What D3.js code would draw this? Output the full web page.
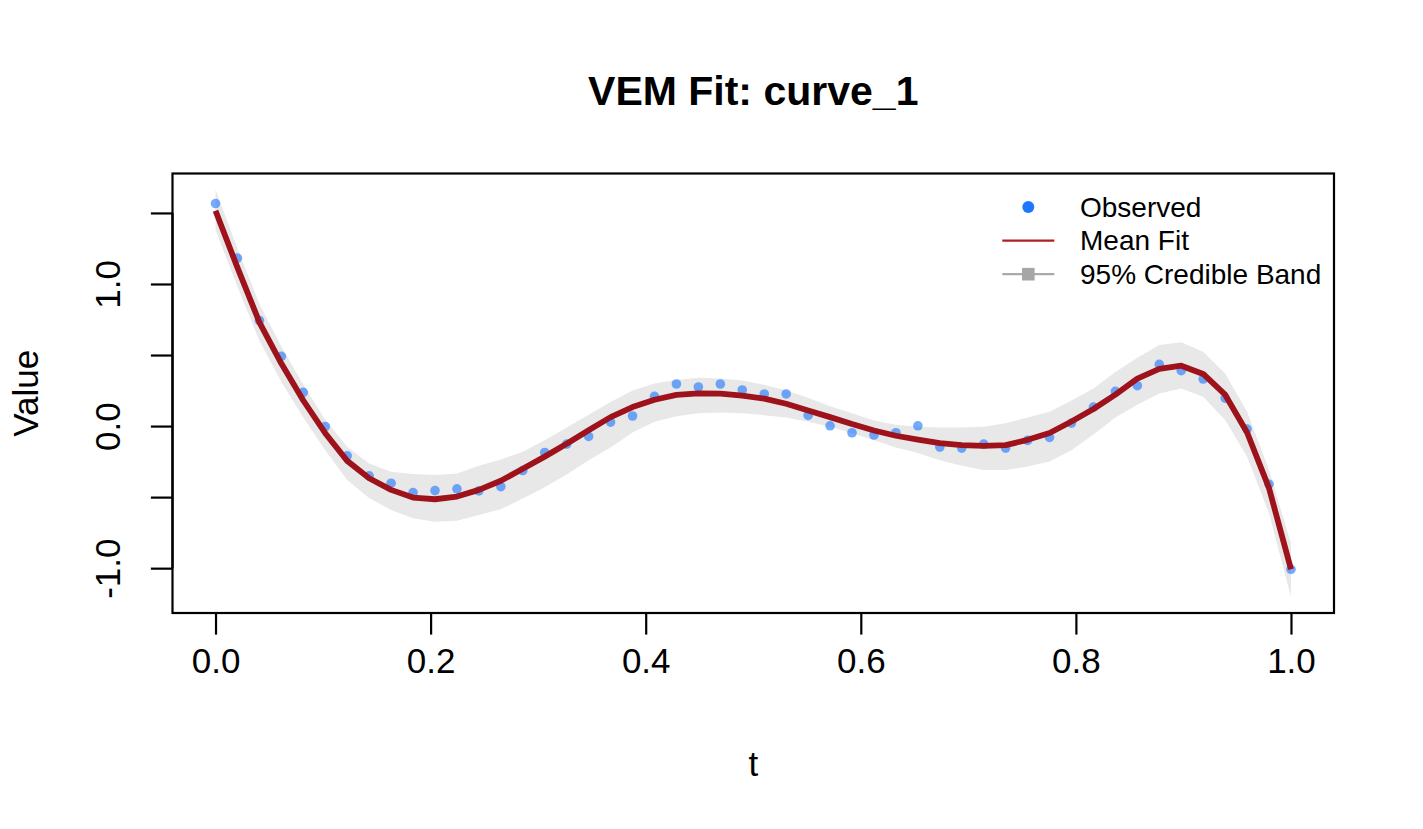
<!DOCTYPE html>
<html>
<head>
<meta charset="utf-8">
<script src="https://cdn.jsdelivr.net/npm/d3@7"></script>
<style>
  html, body { margin: 0; padding: 0; background: #fff; }
  svg { display: block; font-family: "Liberation Sans", Arial, Helvetica, sans-serif; }
</style>
</head>
<body>
<svg id="chart" width="1423" height="829"></svg>
<script>
// ---- data ----
const nPoints = 50;
const tValues = d3.range(nPoints).map(i => i / (nPoints - 1));
const observed = [1.566, 1.182, 0.743, 0.491, 0.237, -0.003, -0.209, -0.350, -0.402, -0.468,
  -0.454, -0.442, -0.456, -0.426, -0.313, -0.186, -0.127, -0.073, 0.028, 0.071,
  0.209, 0.296, 0.275, 0.296, 0.254, 0.226, 0.226, 0.075, 0.002, -0.047,
  -0.063, -0.047, 0.002, -0.148, -0.155, -0.127, -0.155, -0.101, -0.080, 0.021,
  0.134, 0.244, 0.284, 0.434, 0.390, 0.331, 0.197, -0.021, -0.409, -1.008];
const meanFit = [1.515, 1.115, 0.730, 0.440, 0.180, -0.050, -0.245, -0.367, -0.449, -0.503,
  -0.515, -0.496, -0.449, -0.385, -0.300, -0.215, -0.125, -0.030, 0.063, 0.134,
  0.185, 0.219, 0.230, 0.228, 0.214, 0.193, 0.157, 0.110, 0.063, 0.014,
  -0.031, -0.068, -0.095, -0.120, -0.134, -0.139, -0.134, -0.097, -0.049, 0.032,
  0.120, 0.221, 0.334, 0.402, 0.425, 0.367, 0.221, -0.045, -0.437, -1.008];
const bandUpper = [1.663, 1.250, 0.860, 0.560, 0.290, 0.045, -0.146, -0.263, -0.322, -0.338,
  -0.345, -0.333, -0.280, -0.235, -0.180, -0.100, -0.010, 0.080, 0.170, 0.250,
  0.300, 0.325, 0.340, 0.335, 0.320, 0.290, 0.250, 0.200, 0.140, 0.090,
  0.040, 0.010, -0.005, -0.010, -0.010, -0.005, 0.020, 0.060, 0.100, 0.180,
  0.265, 0.380, 0.480, 0.570, 0.590, 0.523, 0.370, 0.100, -0.310, -0.826];
const bandLower = [1.380, 0.980, 0.600, 0.310, 0.060, -0.170, -0.380, -0.507, -0.590, -0.648,
  -0.673, -0.666, -0.625, -0.585, -0.510, -0.430, -0.340, -0.240, -0.150, -0.045,
  0.030, 0.070, 0.090, 0.095, 0.090, 0.077, 0.060, 0.030, -0.005, -0.050,
  -0.100, -0.150, -0.190, -0.240, -0.280, -0.310, -0.310, -0.285, -0.250, -0.170,
  -0.060, 0.060, 0.150, 0.230, 0.265, 0.206, 0.042, -0.216, -0.614, -1.201];
const xTicks = [0, 0.2, 0.4, 0.6, 0.8, 1.0];
const yTicks = [-1.0, -0.5, 0.0, 0.5, 1.0, 1.5];
const yTickLabels = ["-1.0", "", "0.0", "", "1.0", ""];
const legendLabels = ["Observed", "Mean Fit", "95% Credible Band"];
const titleText = "VEM Fit: curve_1";

// ---- layout ----
const svg = d3.select("#chart");
const plot = { left: 172.5, top: 173.5, right: 1334, bottom: 613 };

const yMin = d3.min(bandLower), yMax = d3.max(bandUpper);
const yPad = (yMax - yMin) * 0.04;
const x = d3.scaleLinear().domain([-0.04, 1.04]).range([plot.left, plot.right]);
const y = d3.scaleLinear().domain([yMin - yPad, yMax + yPad]).range([plot.bottom, plot.top]);

const data = tValues.map((t, i) => ({ t, obs: observed[i], mean: meanFit[i], lo: bandLower[i], hi: bandUpper[i] }));

// band
svg.append("path")
  .datum(data)
  .attr("fill", "#e8e8e8")
  .attr("stroke", "none")
  .attr("d", d3.area().x(d => x(d.t)).y0(d => y(d.lo)).y1(d => y(d.hi)));

// points
svg.append("g").selectAll("circle")
  .data(data).join("circle")
  .attr("cx", d => x(d.t)).attr("cy", d => y(d.obs))
  .attr("r", 4.8)
  .attr("fill", "#1e78ff").attr("fill-opacity", 0.62);

// mean line
svg.append("path")
  .datum(data)
  .attr("fill", "none")
  .attr("stroke", "#9e121c")
  .attr("stroke-width", 5.8)
  .attr("stroke-linejoin", "round")
  .attr("d", d3.line().x(d => x(d.t)).y(d => y(d.mean)));

// box
svg.append("rect")
  .attr("x", plot.left).attr("y", plot.top)
  .attr("width", plot.right - plot.left).attr("height", plot.bottom - plot.top)
  .attr("fill", "none").attr("stroke", "#000").attr("stroke-width", 2.2);

// x axis
const xAxis = d3.axisBottom(x).tickValues(xTicks).tickFormat(d3.format(".1f"))
  .tickSize(21.6).tickPadding(14);
const gx = svg.append("g").attr("transform", `translate(0,${plot.bottom})`).call(xAxis);
gx.select(".domain").attr("d", `M${x(0)},0H${x(1)}`).attr("stroke-width", 2.2);
gx.selectAll(".tick line").attr("stroke-width", 2.2);
gx.selectAll(".tick text").attr("font-size", 35).attr("fill", "#000")
  .attr("font-family", "Liberation Sans, Arial, sans-serif");

// y axis
const yAxis = d3.axisLeft(y).tickValues(yTicks).tickFormat((d, i) => yTickLabels[i])
  .tickSize(21.6).tickPadding(0);
const gy = svg.append("g").attr("transform", `translate(${plot.left},0)`).call(yAxis);
gy.select(".domain").attr("d", `M0,${y(-1)}V${y(1.5)}`).attr("stroke-width", 2.2);
gy.selectAll(".tick line").attr("stroke-width", 2.2);
gy.selectAll(".tick text")
  .attr("font-size", 35).attr("fill", "#000")
  .attr("font-family", "Liberation Sans, Arial, sans-serif")
  .attr("text-anchor", "middle")
  .attr("x", null).attr("dy", null)
  .attr("transform", "translate(-65,0) rotate(-90)")
  .attr("dominant-baseline", "central");

// axis titles
svg.append("text").attr("x", (plot.left + plot.right) / 2).attr("y", 776)
  .attr("text-anchor", "middle").attr("font-size", 35).text("t");
svg.append("text")
  .attr("transform", `translate(38,${(plot.top + plot.bottom) / 2}) rotate(-90)`)
  .attr("text-anchor", "middle").attr("font-size", 35).text("Value");

// title
svg.append("text").attr("x", (plot.left + plot.right) / 2).attr("y", 105)
  .attr("text-anchor", "middle").attr("font-size", 41).attr("font-weight", "bold")
  .text(titleText);

// legend
const lg = svg.append("g");
const lx = 1028.3, ly0 = 207, ldy = 33.6;
lg.append("circle").attr("cx", lx).attr("cy", ly0).attr("r", 6).attr("fill", "#1e78ff");
lg.append("line").attr("x1", lx - 26).attr("x2", lx + 26).attr("y1", ly0 + ldy).attr("y2", ly0 + ldy)
  .attr("stroke", "#b01f24").attr("stroke-width", 2.2);
lg.append("line").attr("x1", lx - 26).attr("x2", lx + 26).attr("y1", ly0 + 2 * ldy).attr("y2", ly0 + 2 * ldy)
  .attr("stroke", "#aaaaaa").attr("stroke-width", 2.2);
lg.append("rect").attr("x", lx - 6.3).attr("y", ly0 + 2 * ldy - 6.3).attr("width", 12.6).attr("height", 12.6)
  .attr("fill", "#a6a6a6");
lg.selectAll("text.lab").data(legendLabels).join("text").attr("class", "lab")
  .attr("x", 1080).attr("y", (d, i) => ly0 + i * ldy)
  .attr("dominant-baseline", "central")
  .attr("font-size", 28).text(d => d);
</script>
</body>
</html>
